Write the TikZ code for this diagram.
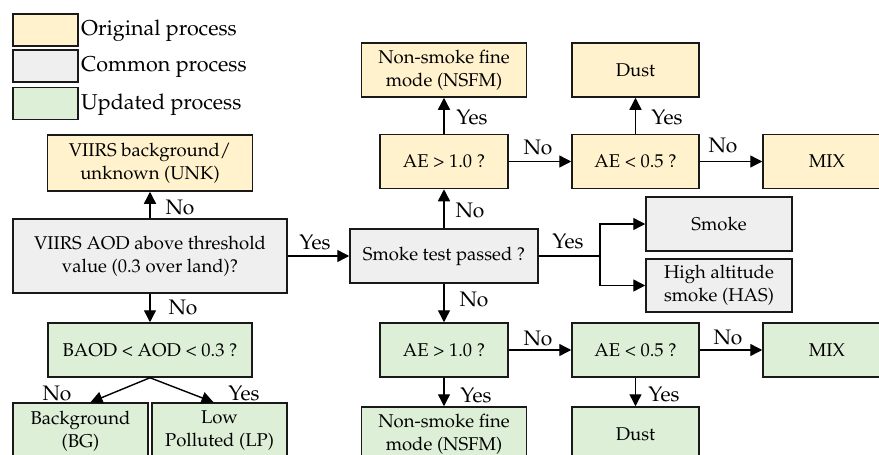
\documentclass[tikz,border=0pt]{standalone}
\usepackage[T1]{fontenc}
\usepackage{mathpazo}
\usetikzlibrary{arrows.meta}
\definecolor{origfill}{HTML}{FFF2CC}
\definecolor{commfill}{HTML}{EFEFEF}
\definecolor{updfill}{HTML}{DDEFD7}
\tikzset{
  box/.style={draw=black!90, line width=1.5pt, align=center, inner sep=2pt,
    font=\fontsize{18.5}{23}\selectfont},
  origbox/.style={box, fill=origfill},
  commbox/.style={box, fill=commfill},
  updbox/.style={box, fill=updfill},
  arr/.style={line width=1.4pt, -{Triangle[length=12pt,width=12pt]}},
  lbl/.style={font=\fontsize{21}{24}\selectfont, inner sep=0pt},
  legtext/.style={font=\fontsize{21.5}{24}\selectfont, inner sep=0pt, anchor=west},
}
\begin{document}
\begin{tikzpicture}[x=1pt,y=-1pt]
\clip (0,0) rectangle (879,455);
% legend
\node[origbox, minimum width=65pt, minimum height=32pt] (legorig) at (45.5,30) {};
\node[legtext] (legorigtxt) at (81,31) {Original process};
\node[commbox, minimum width=65pt, minimum height=32pt] (legcomm) at (45.5,66) {};
\node[legtext] (legcommtxt) at (81,67) {Common process};
\node[updbox, minimum width=65pt, minimum height=32pt] (legupd) at (45.5,103.5) {};
\node[legtext] (legupdtxt) at (81,104.5) {Updated process};
% left column
\node[origbox, minimum width=205pt, minimum height=56pt] (unk) at (150,163) {VIIRS background/\\unknown (UNK)};
\node[commbox, minimum width=274pt, minimum height=74pt] (aod) at (150,256) {VIIRS AOD above threshold\\value (0.3 over land)?};
\node[updbox, minimum width=204pt, minimum height=54pt] (baod) at (150,350) {BAOD < AOD < 0.3 ?};
\node[updbox, minimum width=135pt, minimum height=56pt] (bg) at (80.5,431) {Background\\(BG)};
\node[updbox, minimum width=135pt, minimum height=56pt] (lp) at (219.5,431) {Low\\Polluted (LP)};
% smoke test and upper branch
\node[commbox, minimum width=188pt, minimum height=54pt] (st) at (444,256) {Smoke test passed ?};
\node[origbox, minimum width=128pt, minimum height=54pt] (ae1o) at (444,161.5) {AE > 1.0 ?};
\node[origbox, minimum width=165pt, minimum height=54pt] (nsfmo) at (444,70) {Non-smoke fine\\mode (NSFM)};
\node[origbox, minimum width=127pt, minimum height=54pt] (ae5o) at (635.5,161.5) {AE < 0.5 ?};
\node[origbox, minimum width=127pt, minimum height=54pt] (dusto) at (635.5,70) {Dust};
\node[origbox, minimum width=128pt, minimum height=54pt] (mixo) at (827,161.5) {MIX};
\node[commbox, minimum width=146pt, minimum height=54pt] (smoke) at (719,224) {Smoke};
\node[commbox, minimum width=146pt, minimum height=53pt] (has) at (719,285.5) {High altitude\\smoke (HAS)};
% lower branch
\node[updbox, minimum width=128pt, minimum height=54pt] (ae1u) at (444,350) {AE > 1.0 ?};
\node[updbox, minimum width=165pt, minimum height=54pt] (nsfmu) at (444,434) {Non-smoke fine\\mode (NSFM)};
\node[updbox, minimum width=127pt, minimum height=54pt] (ae5u) at (635.5,350) {AE < 0.5 ?};
\node[updbox, minimum width=128pt, minimum height=54pt] (mixu) at (827,350) {MIX};
\node[updbox, minimum width=127pt, minimum height=54pt] (dustu) at (635.5,434) {Dust};
\coordinate (split) at (600,256);
% connectors
\draw[arr] (aod.north) -- (unk.south);
\draw[arr] (aod.south) -- (baod.north);
\draw[arr] (baod.south) -- ([xshift=10pt]bg.north);
\draw[arr] (baod.south) -- ([xshift=-6pt]lp.north);
\draw[arr] (aod.east) -- (st.west);
\draw[arr] (st.north) -- (ae1o.south);
\draw[arr] (ae1o.north) -- (nsfmo.south);
\draw[arr] (ae1o.east) -- (ae5o.west);
\draw[arr] (ae5o.north) -- (dusto.south);
\draw[arr] (ae5o.east) -- (mixo.west);
\draw[line width=1.4pt] (st.east) -- (split);
\draw[arr] (split) |- (smoke.west);
\draw[arr] (split) |- (has.west);
\draw[arr] (st.south) -- (ae1u.north);
\draw[arr] (ae1u.south) -- (nsfmu.north);
\draw[arr] (ae1u.east) -- (ae5u.west);
\draw[arr] (ae5u.south) -- (dustu.north);
\draw[arr] (ae5u.east) -- (mixu.west);
% labels
\node[lbl] (lunk) at (180,207) {No};
\node[lbl] (lbaod) at (183,307) {No};
\node[lbl] (lbg) at (57,393) {No};
\node[lbl] (llp) at (244,393) {Yes};
\node[lbl] (lst) at (315,242) {Yes};
\node[lbl] (lae1o) at (470,210) {No};
\node[lbl] (lnsfmo) at (472,117) {Yes};
\node[lbl] (lae5o) at (538,147) {No};
\node[lbl] (ldusto) at (667,117) {Yes};
\node[lbl] (lmixo) at (723,145) {No};
\node[lbl] (lsplit) at (568,241) {Yes};
\node[lbl] (lae1u) at (474,299) {No};
\node[lbl] (lnsfmu) at (476,395) {Yes};
\node[lbl] (lae5u) at (538,338) {No};
\node[lbl] (ldustu) at (664,394) {Yes};
\node[lbl] (lmixu) at (728,337) {No};
\end{tikzpicture}
\end{document}
